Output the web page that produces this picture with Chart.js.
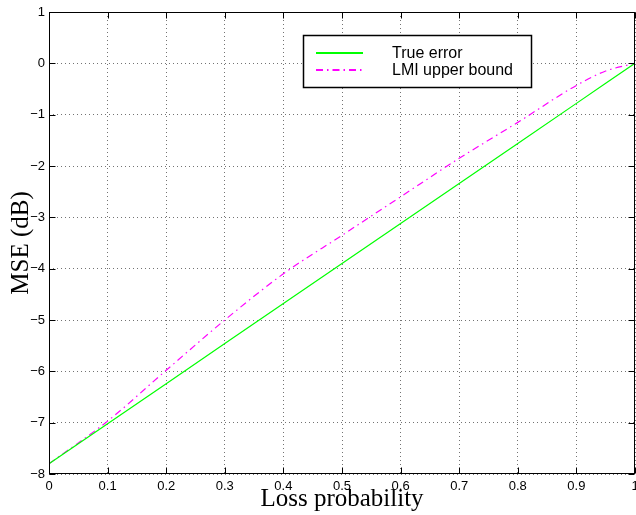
<!DOCTYPE html>
<html>
<head>
<meta charset="utf-8">
<script src="https://cdn.jsdelivr.net/npm/chart.js@4/dist/chart.umd.min.js"></script>
<style>
  html, body { margin: 0; padding: 0; background: #fff; }
  #wrap { width: 636px; height: 515px; }
</style>
</head>
<body>
<div id="wrap"><canvas id="mse-chart" width="636" height="515"></canvas></div>
<script>
// values
const lossProb = [0, 0.1, 0.2, 0.3, 0.4, 0.5, 0.6, 0.7, 0.8, 0.9, 0.95, 1];
const trueError = [-7.8, -7.02, -6.24, -5.46, -4.68, -3.9, -3.12, -2.34, -1.56, -0.78, -0.39, 0];
const lmiBound = [-7.8, -6.97, -5.98, -5.0, -4.1, -3.35, -2.6, -1.85, -1.15, -0.43, -0.15, 0];

const xTickLabels = ['0', '0.1', '0.2', '0.3', '0.4', '0.5', '0.6', '0.7', '0.8', '0.9', '1'];
const yTickLabels = ['\u22128', '\u22127', '\u22126', '\u22125', '\u22124', '\u22123', '\u22122', '\u22121', '0', '1'];

const toPoints = (ys) => lossProb.map((x, i) => ({ x: x, y: ys[i] }));

// inward tick marks, box and legend (matlab look)
const matlabFrame = {
    id: 'matlabFrame',
    afterDraw(chart) {
        const ctx = chart.ctx;
        const a = chart.chartArea;
        const xs = chart.scales.x, ys = chart.scales.y;
        const L = Math.round(a.left) + 0.5, R = Math.round(a.right) - 0.5;
        const T = Math.round(a.top) + 0.5, B = Math.round(a.bottom) - 0.5;
        ctx.save();
        ctx.strokeStyle = '#000';
        ctx.lineWidth = 1;
        ctx.beginPath();
        xs.ticks.forEach(t => {
            const px = Math.round(xs.getPixelForValue(t.value)) + 0.5;
            ctx.moveTo(px, B); ctx.lineTo(px, B - 6);
            ctx.moveTo(px, T); ctx.lineTo(px, T + 6);
        });
        ys.ticks.forEach(t => {
            const py = Math.round(ys.getPixelForValue(t.value)) + 0.5;
            ctx.moveTo(L, py); ctx.lineTo(L + 6, py);
            ctx.moveTo(R, py); ctx.lineTo(R - 6, py);
        });
        ctx.stroke();
        ctx.strokeRect(L, T, R - L, B - T);

        // legend
        const lx = 303, ly = 35, lw = 228, lh = 52;
        ctx.fillStyle = '#fff';
        ctx.fillRect(lx, ly, lw, lh);
        ctx.lineWidth = 1.5;
        ctx.strokeRect(lx + 0.5, ly + 0.5, lw, lh);
        ctx.font = '16px "Liberation Sans", Arial, sans-serif';
        ctx.textBaseline = 'middle';
        ctx.textAlign = 'left';
        chart.data.datasets.forEach((ds, i) => {
            const y = ly + 18 + i * 17;
            ctx.beginPath();
            ctx.strokeStyle = ds.borderColor;
            ctx.lineWidth = 2;
            ctx.setLineDash(ds.borderDash || []);
            ctx.moveTo(316, y); ctx.lineTo(363, y);
            ctx.stroke();
            ctx.setLineDash([]);
            ctx.fillStyle = '#000';
            ctx.fillText(ds.label, 392, y + 1);
        });
        ctx.restore();
    }
};

const gridStyle = {
    color: 'rgba(0,0,0,0.55)',
    lineWidth: 1,
    drawTicks: false
};

new Chart(document.getElementById('mse-chart'), {
    type: 'line',
    data: {
        datasets: [{
            label: 'True error',
            data: toPoints(trueError),
            borderColor: '#00ff00',
            borderWidth: 1.2,
            pointRadius: 0,
            tension: 0
        }, {
            label: 'LMI upper bound',
            data: toPoints(lmiBound),
            borderColor: '#ff00ff',
            borderWidth: 1.2,
            borderDash: [7, 4, 1.5, 4],
            pointRadius: 0,
            cubicInterpolationMode: 'monotone'
        }]
    },
    options: {
        responsive: false,
        animation: false,
        layout: { padding: { top: 12, right: 1, left: 0, bottom: 0 } },
        plugins: { legend: { display: false }, tooltip: { enabled: false } },
        scales: {
            x: {
                type: 'linear',
                min: 0, max: 1,
                grid: gridStyle,
                border: { display: false, dash: [1, 3] },
                ticks: {
                    stepSize: 0.1,
                    padding: 5,
                    maxRotation: 0,
                    autoSkip: false,
                    color: '#000',
                    font: { family: '"Liberation Sans", Arial, sans-serif', size: 13 },
                    callback: (v, i) => xTickLabels[i]
                },
                title: {
                    display: true,
                    text: 'Loss probability',
                    color: '#000',
                    font: { family: '"Liberation Serif", "Times New Roman", serif', size: 25 },
                    padding: { top: 0, bottom: 1 }
                },
                afterFit: (s) => { s.height = 41; s.paddingLeft = 0; s.paddingRight = 0; }
            },
            y: {
                type: 'linear',
                min: -8, max: 1,
                grid: gridStyle,
                border: { display: false, dash: [1, 3] },
                ticks: {
                    stepSize: 1,
                    padding: 4,
                    color: '#000',
                    font: { family: '"Liberation Sans", Arial, sans-serif', size: 13 },
                    callback: (v, i) => yTickLabels[i]
                },
                title: {
                    display: true,
                    text: 'MSE (dB)',
                    color: '#000',
                    font: { family: '"Liberation Serif", "Times New Roman", serif', size: 25 },
                    padding: { top: 6, bottom: 0 }
                },
                afterFit: (s) => { s.width = 49; }
            }
        }
    },
    plugins: [matlabFrame]
});
</script>
</body>
</html>
